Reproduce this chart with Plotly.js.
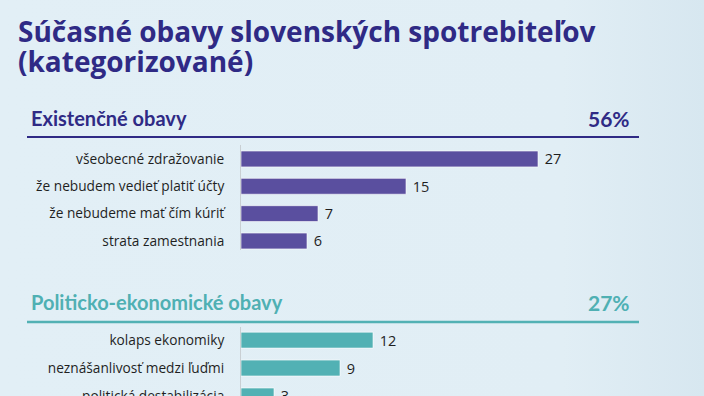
<!DOCTYPE html>
<html>
<head>
<meta charset="utf-8">
<script src="https://cdn.plot.ly/plotly-3.0.1.min.js"></script>
<style>
html,body{margin:0;padding:0;}
body{width:704px;height:396px;overflow:hidden;background:linear-gradient(90deg,#e2eff6 0%,#e1eef5 80%,#d7e7f0 100%);}
#chart{width:704px;height:396px;}
</style>
</head>
<body>
<div id="chart"></div>
<script>
const titleLine1 = "Súčasné obavy slovenských spotrebiteľov";
const titleLine2 = "(kategorizované)";

const group1Title = "Existenčné obavy";
const group1Share = "56%";
const group1Labels = ["všeobecné zdražovanie", "že nebudem vedieť platiť účty", "že nebudeme mať čím kúriť", "strata zamestnania"];
const group1Values = [27, 15, 7, 6];

const group2Title = "Politicko-ekonomické obavy";
const group2Share = "27%";
const group2Labels = ["kolaps ekonomiky", "neznášanlivosť medzi ľuďmi", "politická destabilizácia"];
const group2Values = [12, 9, 3];

const W = 704, H = 396;
const px = x => x / W;
const py = y => 1 - y / H;

const navy = "#2f2a85";
const purple = "#5a4f9f";
const teal = "#52b1b4";
const tealText = "#4fb0b3";

const titleFont = {family: "Open Sans, sans-serif", size: 28, color: navy, weight: 700};
const headFamily = "Lato, sans-serif";
const labelFont = {family: "Open Sans, sans-serif", size: 13.7, color: "#1f1f1f"};
const valueFont = {family: "Open Sans, sans-serif", size: 14.5, color: "#1f1f1f"};

const traces = [
  {
    type: "bar", orientation: "h",
    x: group1Values, y: group1Labels,
    xaxis: "x", yaxis: "y",
    marker: {color: purple, line: {color: "rgba(255,255,255,0.6)", width: 1}},
    width: 0.58,
    text: group1Values.map(v => "\u00a0" + v),
    textposition: "outside", textfont: valueFont, constraintext: "none", cliponaxis: false,
    hoverinfo: "none"
  },
  {
    type: "bar", orientation: "h",
    x: group2Values, y: group2Labels,
    xaxis: "x2", yaxis: "y2",
    marker: {color: teal, line: {color: "rgba(255,255,255,0.6)", width: 1}},
    width: 0.57,
    text: group2Values.map(v => "\u00a0" + v),
    textposition: "outside", textfont: valueFont, constraintext: "none", cliponaxis: true,
    hoverinfo: "none"
  }
];

const xDomain = [px(241), px(639)];
const xRange = [0, (639 - 241) / 11];

const yCommon = {
  type: "category", showgrid: false, zeroline: false,
  showline: true, linecolor: "#c9cfd3", linewidth: 1,
  ticks: "", ticklabelstandoff: 13, tickfont: labelFont, fixedrange: true
};
const xCommon = {
  showgrid: false, zeroline: false, showline: false, showticklabels: false,
  ticks: "", range: xRange, domain: xDomain, fixedrange: true
};

const layout = {
  width: W, height: H,
  margin: {l: 0, r: 0, t: 0, b: 0, pad: 0},
  paper_bgcolor: "rgba(0,0,0,0)",
  plot_bgcolor: "rgba(0,0,0,0)",
  showlegend: false,
  xaxis: Object.assign({}, xCommon, {anchor: "y"}),
  xaxis2: Object.assign({}, xCommon, {anchor: "y2"}),
  yaxis: Object.assign({}, yCommon, {anchor: "x", domain: [py(250), py(145)], range: [3.33, -0.51]}),
  yaxis2: Object.assign({}, yCommon, {anchor: "x2", domain: [0, py(327)], range: [2.001, -0.47]}),
  shapes: [
    {type: "line", xref: "paper", yref: "paper", x0: px(27), x1: px(639), y0: py(137), y1: py(137),
     line: {color: navy, width: 2}},
    {type: "line", xref: "paper", yref: "paper", x0: px(27), x1: px(639), y0: py(322), y1: py(322),
     line: {color: teal, width: 2.5}}
  ],
  annotations: [
    {text: titleLine1, xref: "paper", yref: "paper", x: px(16), y: py(31), xanchor: "left", yanchor: "middle",
     showarrow: false, font: titleFont},
    {text: titleLine2, xref: "paper", yref: "paper", x: px(16), y: py(61), xanchor: "left", yanchor: "middle",
     showarrow: false, font: titleFont},
    {text: group1Title, xref: "paper", yref: "paper", x: px(29), y: py(118), xanchor: "left", yanchor: "middle",
     showarrow: false, font: {family: headFamily, size: 20, color: navy, weight: 700}},
    {text: group1Share, xref: "paper", yref: "paper", x: px(632), y: py(118), xanchor: "right", yanchor: "middle",
     showarrow: false, font: {family: headFamily, size: 21, color: navy, weight: 700}},
    {text: group2Title, xref: "paper", yref: "paper", x: px(29), y: py(302), xanchor: "left", yanchor: "middle",
     showarrow: false, font: {family: headFamily, size: 20, color: tealText, weight: 700}},
    {text: group2Share, xref: "paper", yref: "paper", x: px(632), y: py(302), xanchor: "right", yanchor: "middle",
     showarrow: false, font: {family: headFamily, size: 21, color: tealText, weight: 700}}
  ]
};

Plotly.newPlot("chart", traces, layout, {displayModeBar: false, staticPlot: true});
</script>
</body>
</html>
